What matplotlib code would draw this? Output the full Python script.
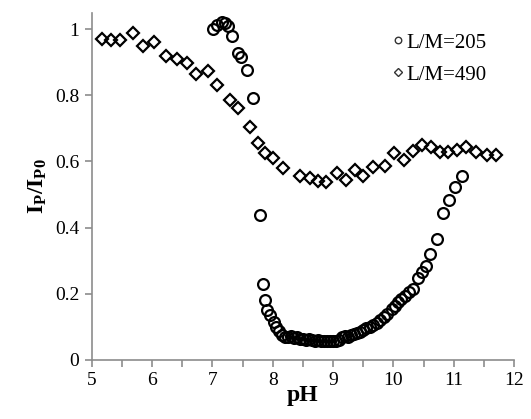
import matplotlib
matplotlib.use("Agg")
import matplotlib.pyplot as plt
from matplotlib.ticker import MultipleLocator, FuncFormatter

plt.rcParams['font.family'] = 'Liberation Serif'
plt.rcParams['mathtext.fontset'] = 'custom'
plt.rcParams['mathtext.rm'] = 'Liberation Serif'
plt.rcParams['mathtext.bf'] = 'Liberation Serif:bold'

# L/M = 205 (circles)
ph_205 = [7.01, 7.07, 7.15, 7.21, 7.26, 7.33, 7.43, 7.48, 7.57, 7.67,
          7.79, 7.83, 7.87, 7.91, 7.96, 8.02, 8.06, 8.11, 8.15, 8.20,
          8.25, 8.30, 8.35, 8.40, 8.45, 8.50, 8.55, 8.60, 8.65, 8.70,
          8.75, 8.80, 8.85, 8.90, 8.95, 9.00, 9.05, 9.10, 9.15, 9.20,
          9.25, 9.30, 9.35, 9.40, 9.45, 9.50, 9.55, 9.61, 9.66, 9.72,
          9.78, 9.84, 9.89, 9.97, 10.03, 10.08, 10.13, 10.19, 10.26, 10.32,
          10.41, 10.47, 10.54, 10.61, 10.72, 10.82, 10.92, 11.02, 11.13]
ip_205 = [1.000, 1.013, 1.020, 1.018, 1.008, 0.979, 0.927, 0.915, 0.877, 0.791,
          0.439, 0.230, 0.182, 0.152, 0.137, 0.115, 0.100, 0.086, 0.076, 0.070,
          0.068, 0.071, 0.066, 0.070, 0.064, 0.062, 0.060, 0.062, 0.060, 0.058,
          0.060, 0.056, 0.058, 0.056, 0.058, 0.056, 0.058, 0.060, 0.068, 0.072,
          0.070, 0.075, 0.077, 0.080, 0.085, 0.090, 0.096, 0.100, 0.106, 0.112,
          0.120, 0.130, 0.140, 0.154, 0.163, 0.175, 0.183, 0.193, 0.205, 0.215,
          0.248, 0.265, 0.283, 0.319, 0.366, 0.444, 0.484, 0.523, 0.557]

# L/M = 490 (diamonds)
ph_490 = [5.16, 5.31, 5.46, 5.68, 5.85, 6.03, 6.23, 6.41, 6.58, 6.72,
          6.92, 7.08, 7.29, 7.43, 7.62, 7.76, 7.87, 8.01, 8.17, 8.45,
          8.62, 8.75, 8.89, 9.06, 9.22, 9.36, 9.50, 9.67, 9.86, 10.01,
          10.17, 10.33, 10.47, 10.63, 10.77, 10.91, 11.06, 11.21, 11.37, 11.55,
          11.70]
ip_490 = [0.970, 0.966, 0.968, 0.988, 0.950, 0.960, 0.920, 0.909, 0.899, 0.864,
          0.872, 0.832, 0.786, 0.761, 0.704, 0.656, 0.625, 0.610, 0.580, 0.557,
          0.550, 0.540, 0.537, 0.565, 0.545, 0.573, 0.557, 0.582, 0.585, 0.625,
          0.605, 0.633, 0.650, 0.645, 0.630, 0.630, 0.635, 0.645, 0.630, 0.620,
          0.620]

fig = plt.figure(figsize=(5.31, 4.19), dpi=100)
ax = fig.add_axes([0.173, 0.141, 0.795, 0.829])

ax.plot(ph_205, ip_205, 'o', ms=7.8, mfc='none', mec='black', mew=1.6,
        label='L/M=205')
ax.plot(ph_490, ip_490, 'D', ms=6.6, mfc='none', mec='black', mew=1.6,
        label='L/M=490')

ax.set_xlim(5, 12)
ax.set_ylim(0, 1.05)
ax.xaxis.set_major_locator(MultipleLocator(1))
ax.xaxis.set_minor_locator(MultipleLocator(0.5))
ax.yaxis.set_major_locator(MultipleLocator(0.2))
ax.yaxis.set_major_formatter(FuncFormatter(lambda v, p: '%g' % round(v, 2)))

for s in ['top', 'right']:
    ax.spines[s].set_visible(False)
for s in ['left', 'bottom']:
    ax.spines[s].set_color('#8c8c8c')
    ax.spines[s].set_linewidth(1.2)
ax.tick_params(which='both', direction='out', color='#8c8c8c', width=1.2,
               labelsize=14, pad=4)
ax.tick_params(which='major', length=5)
ax.tick_params(which='minor', length=5)

ax.set_xlabel('pH', fontsize=17, fontweight='bold', labelpad=-3)
ax.set_ylabel(r'$\mathbf{I_P/I_{P0}}$', fontsize=17, labelpad=4)

leg = ax.legend(loc='upper right', frameon=False, fontsize=15, markerscale=0.6,
                handlelength=0.5, handletextpad=0.15, labelspacing=0.6,
                borderaxespad=0.0, bbox_to_anchor=(0.955, 0.965))
for h in leg.legend_handles:
    h.set_markeredgewidth(1.0)
    h.set_markeredgecolor('#333333')

fig.savefig('out.png', dpi=100)
